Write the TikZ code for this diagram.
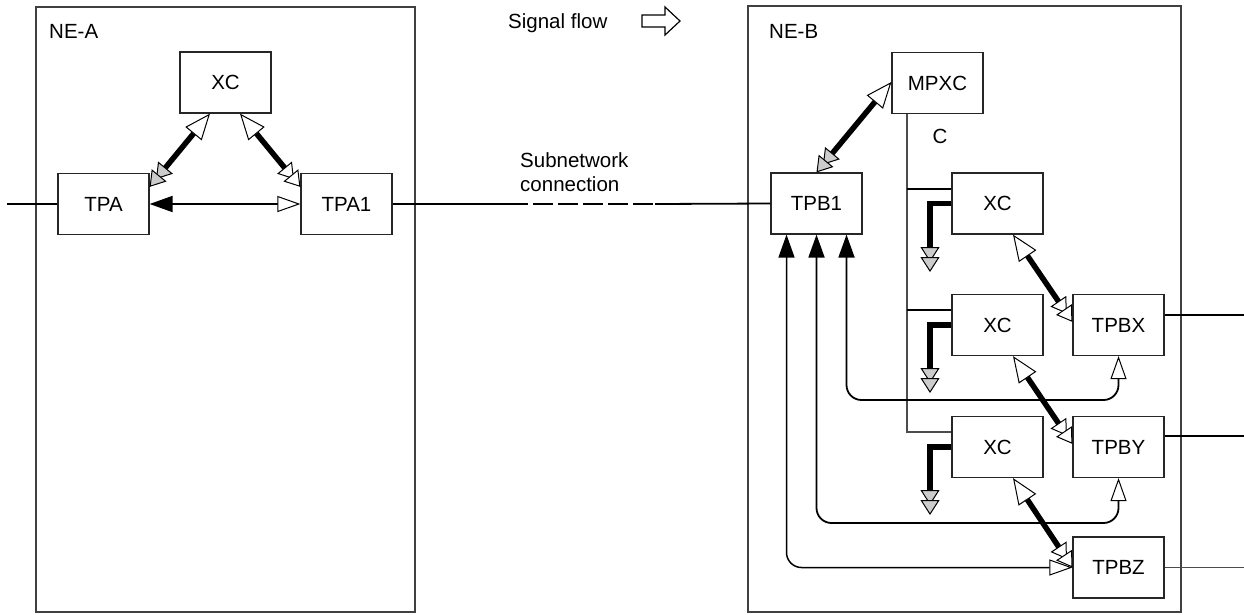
\documentclass[tikz,border=0pt]{standalone}
\usepackage{fontspec}
\setmainfont{Liberation Sans}
\usetikzlibrary{arrows.meta}
\tikzset{
  tb/.tip={Triangle[length=23pt,width=16pt]},
  tw/.tip={Triangle[fill=white,length=23pt,width=16pt,line width=1pt]},
  tws/.tip={Triangle[fill=white,length=26pt,width=21pt,line width=1pt]},
  tgd/.tip={Triangle[fill=black!20,length=15pt,width=19pt,line width=1pt,sep=-5pt] Triangle[fill=black!20,length=15pt,width=19pt,line width=1pt]},
  twd/.tip={Triangle[fill=white,length=15pt,width=19pt,line width=1pt,sep=-5pt] Triangle[fill=white,length=15pt,width=19pt,line width=1pt]},
}
\begin{document}
\begin{tikzpicture}[x=1pt,y=-1pt,
  box/.style={draw=black!85, line width=1.2pt, minimum width=91pt, minimum height=61pt, inner sep=0pt, font=\fontsize{20.5}{24}\selectfont},
  nebox/.style={draw=black!75, line width=1.5pt, inner sep=0pt},
  lbl/.style={inner sep=0pt, font=\fontsize{20.5}{24}\selectfont},
  thinln/.style={line width=1.8pt, draw=black},
  treeln/.style={line width=1.3pt, draw=black!70},
  thickln/.style={line width=5.5pt, draw=black, line join=miter},
  thinarr/.style={line width=1.8pt, draw=black, rounded corners=15pt, {tb}-{tw}},
]
\useasboundingbox (0,0) rectangle (1244,614);
\fill[white] (0,0) rectangle (1244,614);

% network elements
\node[nebox, minimum width=379pt, minimum height=605pt] (nea) at (225.5,309.5) {};
\node[nebox, minimum width=433pt, minimum height=606pt] (neb) at (964.5,309) {};
\node[lbl, anchor=base west] (neal) at (49,38) {NE-A};
\node[lbl, anchor=base west] (nebl) at (769,38) {NE-B};
\node[lbl, anchor=base west] (sig) at (508,28) {Signal flow};
\node[lbl, anchor=base west] (sub1) at (520,167) {Subnetwork};
\node[lbl, anchor=base west] (sub2) at (520,191) {connection};
\node[lbl, anchor=base] (clbl) at (940,143) {C};

% signal flow block arrow
\draw[line width=1.2pt] (642,15) -- (665,15) -- (665,7) -- (680,21) -- (665,35) -- (665,27) -- (642,27) -- cycle;

% boxes NE-A
\node[box] (XCa) at (225.5,82.5) {XC};
\node[box] (TPA) at (103.5,204) {TPA};
\node[box] (TPA1) at (346.5,204) {TPA1};

% boxes NE-B
\node[box] (MPXC) at (937.5,83) {MPXC};
\node[box] (TPB1) at (816.5,203.5) {TPB1};
\node[box] (XC1) at (997.5,203.5) {XC};
\node[box] (XC2) at (997.5,325) {XC};
\node[box] (TPBX) at (1118.5,325) {TPBX};
\node[box] (XC3) at (997.5,447) {XC};
\node[box] (TPBY) at (1118.5,447) {TPBY};
\node[box] (TPBZ) at (1118.5,567.5) {TPBZ};

% external lines
\coordinate (inA) at (7,204);
\draw[thinln] (inA) -- (TPA.west);
\coordinate (sa) at (528,204);
\coordinate (sb) at (655,204);
\draw[thinln] (TPA1.east) -- (sa);
\draw[thinln, line width=2pt, dash pattern=on 20pt off 5pt, dash phase=20pt] (sa) -- (sb);
\draw[thinln] (sb) -- (TPB1.west);
\coordinate (xo) at (1244,315);
\coordinate (yo) at (1244,436);
\coordinate (zo) at (1244,567.5);
\draw[thinln] (xo -| TPBX.east) -- (xo);
\draw[thinln] (yo -| TPBY.east) -- (yo);
\draw[treeln] (TPBZ.east) -- (zo);

% NE-A connections
\draw[thinln, {tb}-{tw}] (TPA.east) -- (TPA1.west);
\draw[thickln, {tws}-{tgd}] ([xshift=-15.5pt]XCa.south) -- ([yshift=-14pt]TPA.north east);
\draw[thickln, {tws}-{twd}] ([xshift=14.5pt]XCa.south) -- ([yshift=-14pt]TPA1.north west);

% MPXC tree
\coordinate (c0) at (907,432);
\coordinate (b1) at (907,189);
\coordinate (b2) at (907,310);
\draw[treeln] (MPXC.south -| c0) -- (c0) -- (c0 -| XC3.west);
\draw[thinln, line width=1.5pt] (b1) -- (b1 -| XC1.west);
\draw[thinln, line width=1.5pt] (b2) -- (b2 -| XC2.west);

\draw[thickln, {tws}-{tgd}] ([yshift=1pt]MPXC.west) -- (TPB1.north);

% XC drops
\coordinate (d1) at (930,272);
\coordinate (d2) at (930,393);
\coordinate (d3) at (930,515);
\draw[thickln, -{tgd}] (XC1.west) -| (d1);
\draw[thickln, -{tgd}] (XC2.west) -| (d2);
\draw[thickln, -{tgd}] (XC3.west) -| (d3);

% XC to TPB
\draw[thickln, {tws}-{twd}] ([xshift=15.5pt]XC1.south) -- ([yshift=-28pt]TPBX.north west);
\draw[thickln, {tws}-{twd}] ([xshift=15.5pt]XC2.south) -- ([yshift=-28pt]TPBY.north west);
\draw[thickln, {tws}-{twd}] ([xshift=15.5pt]XC3.south) -- (TPBZ.west);

% TPB1 return paths
\coordinate (r1) at (1118.5,400);
\coordinate (r2) at (1118.5,523);
\draw[thinarr] ([xshift=30pt]TPB1.south) |- (r1) -- (TPBX.south);
\draw[thinarr] (TPB1.south) |- (r2) -- (TPBY.south);
\draw[thinarr, line width=1.5pt] ([xshift=-30pt]TPB1.south) |- (TPBZ.west);
\end{tikzpicture}
\end{document}
